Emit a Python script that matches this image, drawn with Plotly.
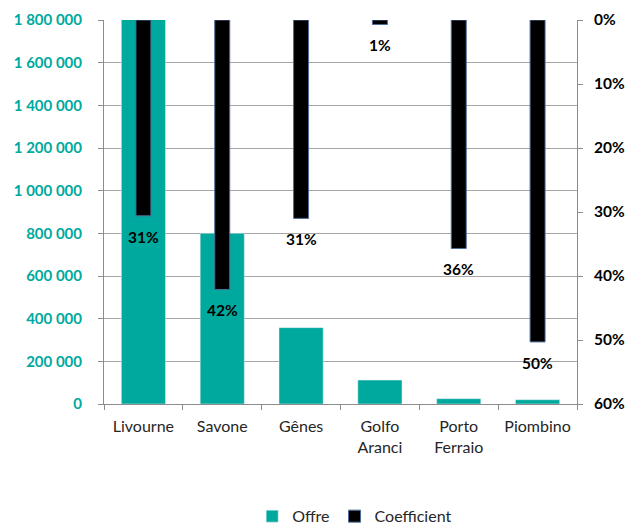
import plotly.graph_objects as go

categories = ["Livourne", "Savone", "Gênes", "Golfo<br>Aranci", "Porto<br>Ferraio", "Piombino"]
offre = [2000000, 800000, 358000, 112000, 25000, 20000]
coefficient = [0.306, 0.421, 0.31, 0.007, 0.357, 0.503]
coef_labels = ["31%", "42%", "31%", "1%", "36%", "50%"]
left_ticks = [0, 200000, 400000, 600000, 800000, 1000000, 1200000, 1400000, 1600000, 1800000]
left_tick_text = ["0", "200 000", "400 000", "600 000", "800 000", "1 000 000",
                  "1 200 000", "1 400 000", "1 600 000", "1 800 000"]
right_ticks = [0, 0.1, 0.2, 0.3, 0.4, 0.5, 0.6]
right_tick_text = ["0%", "10%", "20%", "30%", "40%", "50%", "60%"]

TEAL = "#00A99D"
FONT = "Lato"

fig = go.Figure()
fig.add_trace(go.Bar(
    x=categories, y=offre, name="Offre", marker_color=TEAL,
    width=0.56, yaxis="y", hoverinfo="skip",
))
fig.add_trace(go.Bar(
    x=categories, y=coefficient, name="Coefficient", marker_color="#000000",
    marker_line=dict(color="#4F6D9A", width=1),
    width=0.19, yaxis="y2", hoverinfo="skip",
))
for c, v, t in zip(categories, coefficient, coef_labels):
    fig.add_annotation(x=c, y=v, yref="y2", text=t, showarrow=False,
                       yshift=-21, font=dict(family=FONT, size=15.5, color="#000000", weight="bold"))

fig.update_layout(
    width=632, height=518,
    margin=dict(l=96, r=63, t=12, b=122, autoexpand=False),
    paper_bgcolor="white", plot_bgcolor="white",
    barmode="overlay",
    font=dict(family=FONT, size=16, color="#262626"),
    legend=dict(orientation="h", x=0.53, xanchor="center", y=-0.248, yanchor="top",
                font=dict(family=FONT, size=16, color="#262626"),
                itemwidth=30, traceorder="normal"),
    xaxis=dict(
        showgrid=False, showline=True, linecolor="#8C8C8C", linewidth=1,
        ticks="outside", ticklen=5, tickcolor="#8C8C8C", tickson="boundaries",
        tickfont=dict(family=FONT, size=16, color="#262626"), ticklabelstandoff=8,
    ),
    yaxis=dict(
        range=[0, 1800000], tickvals=left_ticks, ticktext=left_tick_text,
        showgrid=True, gridcolor="#A6A6A6", gridwidth=1,
        showline=True, linecolor="#8C8C8C", linewidth=1,
        ticks="outside", ticklen=5, tickcolor="#8C8C8C",
        tickfont=dict(family=FONT, size=15, color=TEAL, weight="bold"),
        zeroline=False, ticklabelstandoff=13,
    ),
    yaxis2=dict(
        overlaying="y", side="right", range=[0.6, 0], tickvals=right_ticks,
        ticktext=right_tick_text, showgrid=False,
        showline=True, linecolor="#8C8C8C", linewidth=1,
        ticks="outside", ticklen=5, tickcolor="#8C8C8C",
        tickfont=dict(family=FONT, size=15.5, color="#000000", weight="bold"),
        zeroline=False, ticklabelstandoff=8,
    ),
)

fig.write_html("out.html")
